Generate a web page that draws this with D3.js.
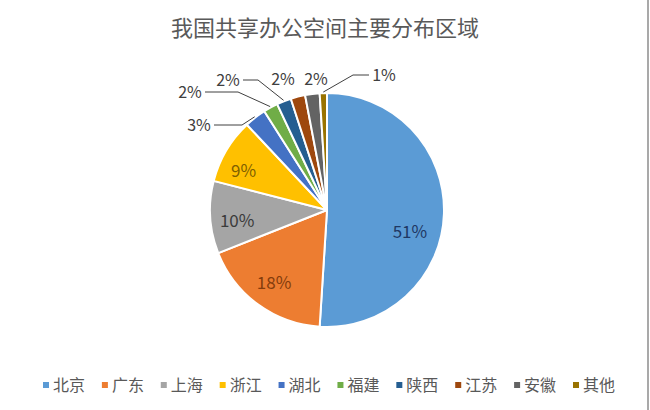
<!DOCTYPE html>
<html>
<head>
<meta charset="utf-8">
<script src="https://cdn.jsdelivr.net/npm/d3@7"></script>
<style>
  body { margin: 0; background: #fff; }
  svg text { font-family: "Noto Sans CJK SC", "Microsoft YaHei", sans-serif; }
</style>
</head>
<body>
<div class="chart"></div>
<script>
"use strict";

// data
const regions = ["北京", "广东", "上海", "浙江", "湖北", "福建", "陕西", "江苏", "安徽", "其他"];
const shares = [51, 18, 10, 9, 3, 2, 2, 2, 2, 1];
const sliceColors = ["#5b9bd5", "#ed7d31", "#a5a5a5", "#ffc000", "#4472c4",
                     "#70ad47", "#255e91", "#9e480e", "#636363", "#997300"];
const title = "我国共享办公空间主要分布区域";

// layout for labels (not data): inside labels get a small nudge,
// outside labels sit at an offset from the centre, with an elbow x for the leader line
const innerNudge = { 0: [-7, 19], 1: [0, 0], 2: [0, 5], 3: [-6, 7] };
const innerColors = { 0: "#1f3864", 1: "#843c0c", 2: "#3b3b3b", 3: "#7f6000" };
const outerPos = {
  4: { x: -128, y: -85, elbow: -85 },
  5: { x: -137, y: -118, elbow: -89 },
  6: { x: -99, y: -130, elbow: -69 },
  7: { x: -44, y: -131, elbow: null },
  8: { x: -11, y: -131, elbow: null },
  9: { x: 57, y: -135, elbow: 26 }
};

const W = 650, H = 410;
const cx = 327, cy = 210, R = 117;

const svg = d3.select(".chart").append("svg")
  .attr("width", W)
  .attr("height", H);

// right frame line
svg.append("line")
  .attr("x1", 648).attr("x2", 648)
  .attr("y1", 0).attr("y2", H)
  .attr("stroke", "#8c8c8c")
  .attr("stroke-width", 1.5);

svg.append("text")
  .attr("x", 325)
  .attr("y", 36)
  .attr("text-anchor", "middle")
  .style("font-size", "22px")
  .style("fill", "#595959")
  .text(title);

const color = d3.scaleOrdinal().domain(regions).range(sliceColors);

const pie = d3.pie().sort(null).value((d, i) => shares[i]);
const arcs = pie(regions);
const arc = d3.arc().innerRadius(0).outerRadius(R);
const labelArc = d3.arc().innerRadius(90).outerRadius(90);

const g = svg.append("g")
  .attr("transform", "translate(" + cx + "," + cy + ")");

g.selectAll("path.slice")
  .data(arcs)
  .enter().append("path")
  .attr("class", "slice")
  .attr("d", arc)
  .attr("fill", d => color(d.data))
  .attr("stroke", "#fff")
  .attr("stroke-width", 2)
  .attr("stroke-linejoin", "round");

// inside labels
g.selectAll("text.inner")
  .data(arcs.filter(d => innerNudge[d.index]))
  .enter().append("text")
  .attr("class", "inner")
  .attr("transform", d => {
    const c = labelArc.centroid(d);
    const n = innerNudge[d.index];
    return "translate(" + (c[0] + n[0]) + "," + (c[1] + n[1]) + ")";
  })
  .attr("text-anchor", "middle")
  .attr("dy", "0.36em")
  .style("font-size", "17px")
  .style("fill", d => innerColors[d.index])
  .text(d => shares[d.index] + "%");

// outside labels with leader lines
const outer = arcs.filter(d => outerPos[d.index]);

g.selectAll("path.leader")
  .data(outer.filter(d => outerPos[d.index].elbow !== null))
  .enter().append("path")
  .attr("class", "leader")
  .attr("fill", "none")
  .attr("stroke", "#404040")
  .attr("stroke-width", 1)
  .attr("d", d => {
    const p = outerPos[d.index];
    const a = (d.startAngle + d.endAngle) / 2;
    const ax = Math.sin(a) * (R + 1), ay = -Math.cos(a) * (R + 1);
    const side = p.x < p.elbow ? 1 : -1;
    const lx = p.x + side * 15;
    return "M" + lx + "," + p.y + "H" + p.elbow + "L" + ax + "," + ay;
  });

g.selectAll("text.outer")
  .data(outer)
  .enter().append("text")
  .attr("class", "outer")
  .attr("x", d => outerPos[d.index].x)
  .attr("y", d => outerPos[d.index].y)
  .attr("dy", "0.36em")
  .attr("text-anchor", "middle")
  .style("font-size", "16px")
  .style("fill", "#404040")
  .text(d => shares[d.index] + "%");

// legend
const lx = d3.scalePoint().domain(regions).range([43, 573]);
const legend = svg.append("g").attr("class", "legend");
const item = legend.selectAll("g")
  .data(regions)
  .enter().append("g")
  .attr("transform", d => "translate(" + lx(d) + ",385)");
item.append("rect")
  .attr("x", 0).attr("y", -3)
  .attr("width", 6).attr("height", 6)
  .attr("fill", d => color(d));
item.append("text")
  .attr("x", 10)
  .attr("dy", "0.36em")
  .style("font-size", "16px")
  .style("fill", "#595959")
  .text(d => d);
</script>
</body>
</html>
